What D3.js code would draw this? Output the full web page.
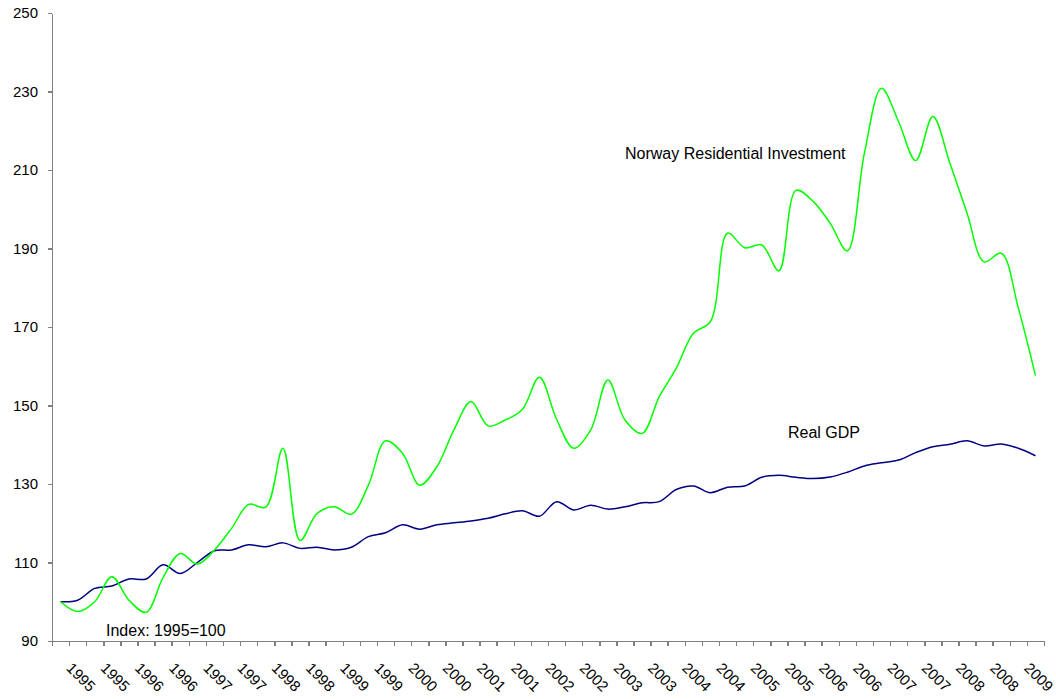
<!DOCTYPE html>
<html lang="en">
<head>
<meta charset="utf-8">
<title>Norway residential investment vs real GDP</title>
<script src="https://cdn.jsdelivr.net/npm/d3@7"></script>
<style>
  body { margin: 0; background: #fff; }
  svg text { font-family: "Liberation Sans", Arial, sans-serif; fill: #000; }
  .axis path, .axis line { stroke: #808080; stroke-width: 1.5; shape-rendering: crispEdges; }
</style>
</head>
<body>
<div id="chart"></div>
<script>
// quarterly categories 1995Q1 .. 2009Q2
var quarters = [];
for (var y = 1995; y <= 2009; y++) {
  for (var q = 1; q <= 4; q++) {
    if (y == 2009 && q > 2) break;
    quarters.push(y + "Q" + q);
  }
}

// Index: 1995=100
var residential = [100, 97.5, 100, 106.4, 100.4, 97.3, 106.2, 112.3, 109.6, 113.2,
  118.7, 124.8, 124.1, 139.1, 115.6, 122.5, 124.2, 122.3, 129.7, 141.0,
  137.8, 129.7, 134.4, 143.8, 151.0, 144.8, 146.3, 149.0, 157.2, 146.5,
  139.1, 143.8, 156.5, 146.3, 142.9, 152.2, 159.5, 168.4, 171.4, 193.9,
  190.2, 190.9, 184.3, 204.8, 202.0, 196.4, 189.4, 214.3, 230.8, 222.3,
  212.4, 223.6, 211.7, 199.0, 186.6, 188.8, 174.8, 157.6];

var gdp = [100, 100.4, 103.4, 104.0, 105.8, 105.8, 109.4, 107.2, 110.0, 113.0,
  113.2, 114.5, 114.0, 115.0, 113.6, 113.9, 113.2, 113.9, 116.6, 117.6,
  119.6, 118.5, 119.6, 120.1, 120.6, 121.3, 122.4, 123.2, 121.8, 125.5,
  123.4, 124.6, 123.6, 124.2, 125.2, 125.5, 128.6, 129.5, 127.8, 129.2,
  129.5, 131.7, 132.2, 131.7, 131.4, 131.8, 133.0, 134.6, 135.4, 136.1,
  138.0, 139.5, 140.1, 141.0, 139.7, 140.2, 139.1, 137.2];

var yTicks = [90, 110, 130, 150, 170, 190, 210, 230, 250];

var w = 1056, h = 699;

var svg = d3.select("#chart").append("svg")
  .attr("width", w)
  .attr("height", h);

var xScale = d3.scaleBand()
  .domain(quarters)
  .range([52, 1044])
  .padding(0);

var xEdge = d3.scaleLinear()
  .domain([0, quarters.length])
  .range([52, 1044]);

var yScale = d3.scaleLinear()
  .domain([90, 250])
  .range([641, 13]);

var cx = function(d, i) { return xScale(quarters[i]) + xScale.bandwidth() / 2; };

// y axis
var yAxis = svg.append("g")
  .attr("class", "axis")
  .attr("transform", "translate(52,0)")
  .call(d3.axisLeft(yScale).tickValues(yTicks).tickSize(4).tickPadding(10).tickSizeOuter(0));
yAxis.selectAll("text").style("font-size", "15px").attr("fill", "#000");

// x axis, ticks between the categories
var xAxis = svg.append("g")
  .attr("class", "axis")
  .attr("transform", "translate(0,641)")
  .call(d3.axisBottom(xEdge).tickValues(d3.range(0, quarters.length + 1)).tickFormat("").tickSize(5).tickSizeOuter(0));

// year labels every second quarter, slanted
svg.append("g")
  .selectAll("text")
  .data(quarters.filter(function(d, i) { return i % 2 == 0; }))
  .enter()
  .append("text")
  .attr("transform", function(d) {
    return "translate(" + (xScale(d) + xScale.bandwidth() / 2 + 5) + ",669) rotate(45)";
  })
  .style("font-size", "15px")
  .text(function(d) { return d.slice(0, 4); });

// lines
var line = d3.line()
  .x(cx)
  .y(function(d) { return yScale(d); })
  .curve(d3.curveCatmullRom.alpha(0.5));

svg.append("path")
  .datum(gdp)
  .attr("fill", "none")
  .attr("stroke", "#000080")
  .attr("stroke-width", 1.5)
  .attr("d", line);

svg.append("path")
  .datum(residential)
  .attr("fill", "none")
  .attr("stroke", "#00ff00")
  .attr("stroke-width", 1.5)
  .attr("d", line);

// annotations
svg.append("text")
  .attr("x", 625).attr("y", 159)
  .style("font-size", "16px")
  .text("Norway Residential Investment");

svg.append("text")
  .attr("x", 788).attr("y", 438)
  .style("font-size", "16px")
  .text("Real GDP");

svg.append("text")
  .attr("x", 106).attr("y", 636)
  .style("font-size", "16px")
  .text("Index: 1995=100");
</script>
</body>
</html>
